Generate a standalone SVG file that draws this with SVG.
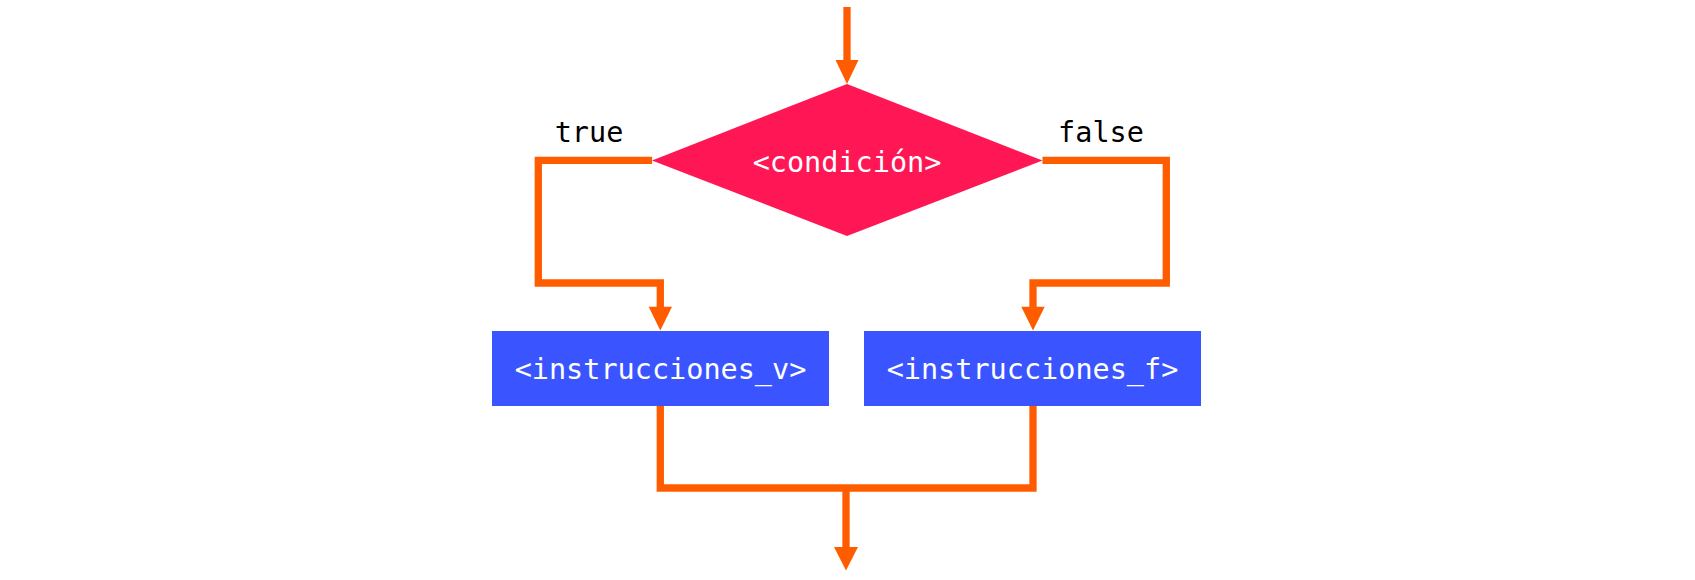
<svg xmlns="http://www.w3.org/2000/svg" width="1695" height="580" viewBox="0 0 1695 580">
<defs>
<style>
.conn{fill:none;stroke:#FF5C00;stroke-width:7.3;stroke-linejoin:miter;stroke-linecap:butt}
.head{fill:#FF5C00}
.lbl{font-family:"DejaVu Sans Mono","Liberation Mono",monospace;font-size:28.5px}
.w{fill:#FFFFFF}
.k{fill:#000000}
</style>
</defs>
<rect width="1695" height="580" fill="#FFFFFF"/>
<g id="connectors">
<path class="conn" d="M847,7 V61"/>
<polygon class="head" points="835.5,60 858.5,60 847,84"/>
<path class="conn" d="M652,160.3 H538.3 V283 H660.3 V308"/>
<polygon class="head" points="648.7,306.7 672,306.7 660.3,330.5"/>
<path class="conn" d="M1042.5,160.3 H1166.3 V283 H1033 V308"/>
<polygon class="head" points="1021.3,306.7 1044.7,306.7 1033,330.5"/>
<path class="conn" d="M660.3,406 V488 H1033 V406"/>
<path class="conn" d="M846,488 V548"/>
<polygon class="head" points="834,547 858,547 846,570.5"/>
</g>
<g id="label-true"><text class="lbl k" x="589" y="141.7" text-anchor="middle">true</text></g>
<g id="label-false"><text class="lbl k" x="1101" y="141.7" text-anchor="middle">false</text></g>
<g id="decision">
<polygon points="847,84 1042.5,160.5 847,236 652,160.5" fill="#FF1654"/>
<text class="lbl w" x="847" y="172" text-anchor="middle">&lt;condición&gt;</text>
</g>
<g id="instr-v">
<rect x="492" y="331" width="337" height="75" fill="#3A55FF"/>
<text class="lbl w" x="660.5" y="379.3" text-anchor="middle">&lt;instrucciones_v&gt;</text>
</g>
<g id="instr-f">
<rect x="864" y="331" width="337" height="75" fill="#3A55FF"/>
<text class="lbl w" x="1032.5" y="379.3" text-anchor="middle">&lt;instrucciones_f&gt;</text>
</g>
</svg>
